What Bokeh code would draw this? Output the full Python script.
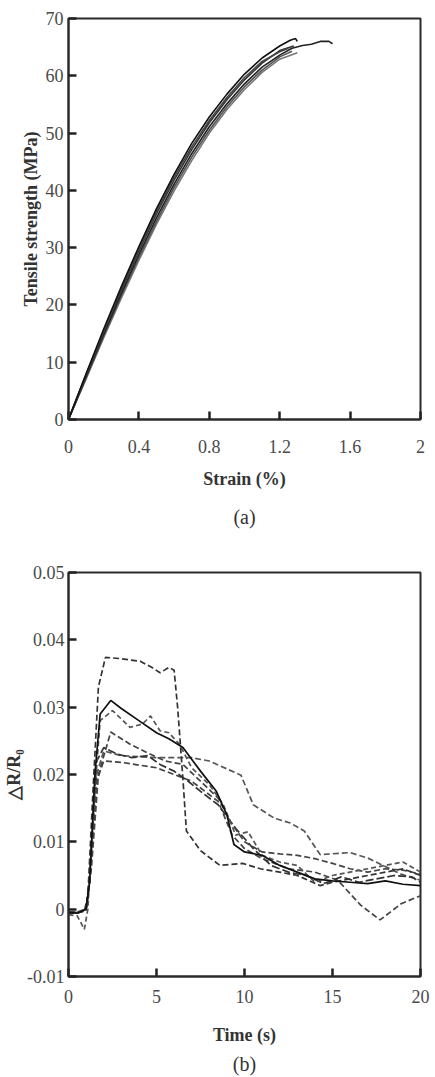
from bokeh.plotting import figure
from bokeh.layouts import column
from bokeh.models import FixedTicker, CustomJSTickFormatter, Title
from bokeh.embed import file_html
from bokeh.resources import INLINE

# ---------------- data: panel (a) ----------------
strain_ticks = [0, 0.4, 0.8, 1.2, 1.6, 2]
stress_ticks = [0, 10, 20, 30, 40, 50, 60, 70]

a1_x = [0, 0.1, 0.2, 0.3, 0.4, 0.5, 0.6, 0.7, 0.8, 0.9, 1.0, 1.1, 1.2, 1.26, 1.29, 1.30]
a1_y = [0, 8.0, 15.8, 23.2, 30.2, 36.8, 42.8, 48.2, 52.8, 56.8, 60.3, 63.1, 65.2, 66.2, 66.5, 66.0]
a2_x = [0, 0.1, 0.2, 0.3, 0.4, 0.5, 0.6, 0.7, 0.8, 0.9, 1.0, 1.1, 1.2, 1.28]
a2_y = [0, 7.7, 15.2, 22.5, 29.4, 35.9, 41.8, 47.1, 51.8, 55.8, 59.3, 62.2, 64.4, 65.2]
a3_x = [0, 0.1, 0.2, 0.3, 0.4, 0.5, 0.6, 0.7, 0.8, 0.9, 1.0, 1.1, 1.2, 1.27, 1.33, 1.38, 1.43, 1.48, 1.50]
a3_y = [0, 7.5, 14.9, 22.0, 28.8, 35.2, 41.1, 46.4, 51.1, 55.1, 58.6, 61.5, 63.6, 64.8, 65.3, 65.5, 66.0, 66.0, 65.6]
a4_x = [0, 0.1, 0.2, 0.3, 0.4, 0.5, 0.6, 0.7, 0.8, 0.9, 1.0, 1.1, 1.2, 1.27]
a4_y = [0, 7.3, 14.6, 21.6, 28.3, 34.6, 40.5, 45.8, 50.5, 54.6, 58.1, 61.0, 63.3, 64.3]
a5_x = [0, 0.1, 0.2, 0.3, 0.4, 0.5, 0.6, 0.7, 0.8, 0.9, 1.0, 1.1, 1.2, 1.25]
a5_y = [0, 7.9, 15.5, 22.9, 29.8, 36.3, 42.3, 47.6, 52.2, 56.2, 59.7, 62.5, 64.2, 64.8]
a6_x = [0, 0.1, 0.2, 0.3, 0.4, 0.5, 0.6, 0.7, 0.8, 0.9, 1.0, 1.1, 1.2, 1.30]
a6_y = [0, 7.1, 14.3, 21.2, 27.8, 34.1, 39.9, 45.2, 50.0, 54.1, 57.6, 60.6, 62.9, 64.0]

# ---------------- data: panel (b) ----------------
time_ticks = [0, 5, 10, 15, 20]
dr_ticks = [-0.01, 0, 0.01, 0.02, 0.03, 0.04, 0.05]

b1_t = [0, 0.5, 0.9, 1.1, 1.4, 1.7, 2.1, 3.0, 4.1, 4.8, 5.2, 5.7, 6.0, 6.2, 6.5, 6.7, 7.5, 8.6, 9.9, 10.9, 12, 13, 14.3, 15, 16, 17, 18, 19, 20]
b1_v = [-0.0005, -0.0005, -0.0003, 0.002, 0.018, 0.033, 0.0374, 0.0372, 0.0368, 0.0358, 0.0351, 0.0359, 0.0355, 0.030, 0.0194, 0.0116, 0.0087, 0.0065, 0.0068, 0.006, 0.0055, 0.005, 0.0035, 0.004, 0.0045, 0.005, 0.0055, 0.006, 0.005]
b2_t = [0, 0.5, 1.0, 1.2, 1.5, 1.8, 2.4, 3.0, 4.0, 5.0, 5.7, 6.5, 7.5, 8.4, 9.0, 9.4, 10, 11, 12, 13, 14, 15, 16, 17, 18, 19, 20]
b2_v = [-0.0005, -0.0006, 0, 0.004, 0.02, 0.029, 0.031, 0.0298, 0.028, 0.0262, 0.0253, 0.024, 0.0205, 0.0175, 0.014, 0.0096, 0.0085, 0.008, 0.0065, 0.0055, 0.0045, 0.0042, 0.004, 0.0038, 0.0042, 0.0037, 0.0035]
b3_t = [0, 0.5, 0.9, 1.1, 1.5, 1.8, 2.5, 3.5, 4.2, 4.66, 5.2, 5.7, 6.3, 7.0, 8.0, 8.8, 9.5, 10.2, 11, 12, 13, 14, 15, 16, 17, 18, 19, 20]
b3_v = [-0.0008, -0.001, -0.003, 0.0, 0.018, 0.028, 0.0295, 0.027, 0.0275, 0.0287, 0.0265, 0.0262, 0.0245, 0.021, 0.0185, 0.0155, 0.011, 0.0115, 0.008, 0.007, 0.0065, 0.004, 0.005, 0.0055, 0.006, 0.0065, 0.007, 0.0055]
b4_t = [0, 0.5, 1.0, 1.3, 1.7, 2.4, 3.5, 4.5, 5.5, 6.5, 7.5, 8.5, 9.2, 10, 11, 12, 13, 14, 15, 16, 17, 18, 19, 20]
b4_v = [-0.0005, -0.0005, -0.0002, 0.006, 0.02, 0.0263, 0.0245, 0.0232, 0.022, 0.0215, 0.019, 0.0165, 0.013, 0.01, 0.0085, 0.0082, 0.008, 0.0075, 0.0068, 0.006, 0.0055, 0.006, 0.0058, 0.0052]
b5_t = [0, 0.5, 1.0, 1.2, 1.6, 2.0, 2.8, 3.6, 4.5, 5.2, 6.0, 6.8, 7.5, 8.5, 9.5, 10.5, 11.5, 12.5, 13.5, 14.5, 15.5, 16.5, 17.5, 18.5, 19.5, 20]
b5_v = [-0.0004, -0.0005, 0, 0.005, 0.022, 0.024, 0.023, 0.0225, 0.0228, 0.0215, 0.0205, 0.019, 0.0175, 0.0155, 0.012, 0.009, 0.0065, 0.0055, 0.005, 0.0038, 0.0048, 0.004, 0.0045, 0.005, 0.0048, 0.004]
b6_t = [0, 0.5, 1.0, 1.2, 1.6, 2.0, 3.0, 5.0, 7.0, 8.0, 9.8, 10.5, 11.7, 12.6, 13.4, 14.3, 16, 17, 18.9, 20]
b6_v = [-0.0005, -0.0004, 0, 0.004, 0.02, 0.0235, 0.0228, 0.0225, 0.0225, 0.022, 0.0199, 0.0155, 0.0135, 0.0128, 0.0116, 0.0081, 0.0084, 0.0076, 0.0052, 0.0043]
b7_t = [0, 0.5, 1.0, 1.2, 1.6, 2.0, 3.0, 5.0, 7.0, 8.5, 9.3, 10, 11, 12.5, 14, 15.3, 16.6, 17.7, 18.9, 20]
b7_v = [-0.0006, -0.0006, -0.0001, 0.004, 0.019, 0.022, 0.0218, 0.021, 0.019, 0.016, 0.011, 0.009, 0.0075, 0.006, 0.0055, 0.0043, 0.0006, -0.0016, 0.0008, 0.002]

FONT = "Liberation Serif"
DARK = "#2b2b2b"


def style(p, xticks, yticks, xlabel, ylabel):
    p.xgrid.visible = False
    p.ygrid.visible = False
    p.outline_line_color = DARK
    p.outline_line_width = 2
    for ax, ticks, lab in ((p.xaxis[0], xticks, xlabel), (p.yaxis[0], yticks, ylabel)):
        ax.ticker = FixedTicker(ticks=ticks)
        ax.formatter = CustomJSTickFormatter(code="return Number(tick.toFixed(3)).toString();")
        ax.axis_label = lab
        ax.axis_line_color = DARK
        ax.axis_line_width = 2
        ax.major_tick_line_color = "#222222"
        ax.major_tick_line_width = 2.5
        ax.major_tick_in = 8
        ax.major_tick_out = 0
        ax.minor_tick_line_color = None
        ax.major_label_text_font = FONT
        ax.major_label_text_font_size = "18px"
        ax.major_label_text_color = "#4a4a4a"
        ax.axis_label_text_font = FONT
        ax.axis_label_text_font_size = "18px"
        ax.axis_label_text_font_style = "bold"
        ax.axis_label_text_color = "#333333"


# ---------------- panel (a) ----------------
pa = figure(width=435, height=540, x_range=(0, 2), y_range=(0, 70),
            output_backend="svg", toolbar_location=None,
            min_border_left=61, min_border_right=10, min_border_top=18, min_border_bottom=119)
style(pa, strain_ticks, stress_ticks, "Strain (%)", "Tensile strength (MPa)")
pa.xaxis[0].major_label_standoff = 20
pa.xaxis[0].axis_label_standoff = 13
pa.yaxis[0].major_label_standoff = 5
pa.yaxis[0].axis_label_standoff = 2

for xs, ys, col in ((a6_x, a6_y, "#777777"), (a4_x, a4_y, "#555555"), (a3_x, a3_y, "#222222"),
                    (a2_x, a2_y, "#333333"), (a5_x, a5_y, "#444444"), (a1_x, a1_y, "#111111")):
    pa.line(xs, ys, line_color=col, line_width=1.6)

pa.add_layout(Title(text="(a)", align="center", text_font=FONT, text_font_size="20px",
                    text_font_style="normal", text_color="#333333", standoff=25), "below")

# ---------------- panel (b) ----------------
pb = figure(width=435, height=537, x_range=(0, 20), y_range=(-0.01, 0.05),
            output_backend="svg", toolbar_location=None,
            min_border_left=68, min_border_right=15, min_border_top=32, min_border_bottom=97)
style(pb, time_ticks, dr_ticks, "Time (s)", "△R/R₀")
pb.xaxis[0].major_label_standoff = 13
pb.xaxis[0].axis_label_standoff = 19
pb.yaxis[0].major_label_standoff = 4
pb.yaxis[0].axis_label_standoff = 0

series_b = [
    (b6_t, b6_v, "#555555", "6 3"),
    (b7_t, b7_v, "#444444", "6 3"),
    (b5_t, b5_v, "#333333", "8 3"),
    (b4_t, b4_v, "#444444", "6 3"),
    (b3_t, b3_v, "#555555", "5 3"),
    (b1_t, b1_v, "#333333", "6 3"),
    (b2_t, b2_v, "#111111", "solid"),
]
for ts, vs, col, dash in series_b:
    pb.line(ts, vs, line_color=col, line_width=1.7, line_dash=dash)

pb.add_layout(Title(text="(b)", align="center", text_font=FONT, text_font_size="20px",
                    text_font_style="normal", text_color="#333333", standoff=6), "below")

layout = column(pa, pb, spacing=0)
open("out.html", "w").write(file_html(layout, INLINE))
